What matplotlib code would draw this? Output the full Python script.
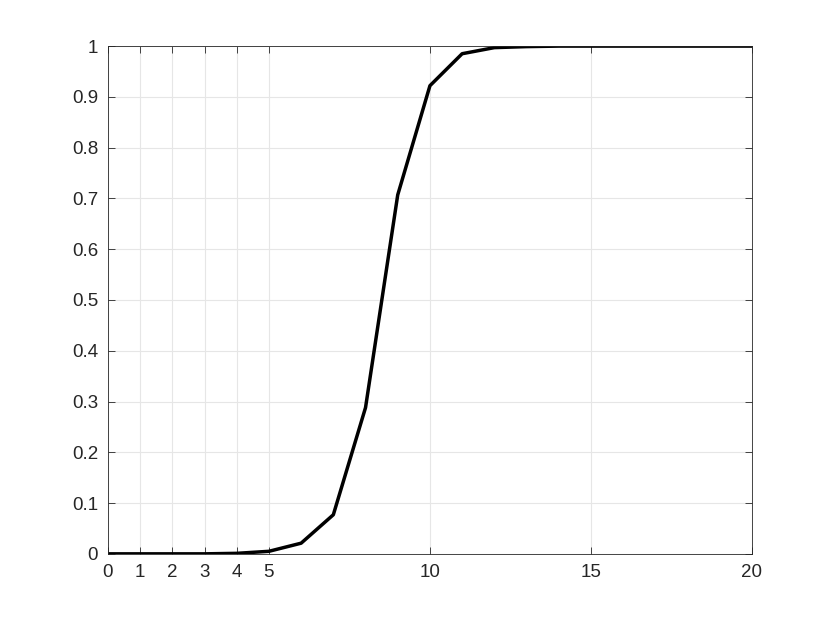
import numpy as np
import matplotlib.pyplot as plt

plt.rcParams['font.family'] = ['Liberation Sans', 'DejaVu Sans']

x_data = np.arange(0, 21, 1)
y_data = [0.0, 0.0, 0.0, 0.0, 0.001, 0.005, 0.021, 0.077, 0.288, 0.707, 0.922,
          0.985, 0.997, 0.999, 1.0, 1.0, 1.0, 1.0, 1.0, 1.0, 1.0]
x_ticks = [0, 1, 2, 3, 4, 5, 10, 15, 20]
y_ticks = np.round(np.arange(0, 1.01, 0.1), 1)
y_labels = ['0', '0.1', '0.2', '0.3', '0.4', '0.5', '0.6', '0.7', '0.8', '0.9', '1']

fig = plt.figure(figsize=(8.3, 6.23), dpi=100)
ax = fig.add_axes([0.13, 0.111, 0.776, 0.815])

ax.plot(x_data, y_data, '-', color='black', linewidth=2.5)

ax.set_xlim(0, 20)
ax.set_ylim(0, 1)
ax.set_xticks(x_ticks)
ax.set_xticklabels([str(t) for t in x_ticks])
ax.set_yticks(y_ticks)
ax.set_yticklabels(y_labels)
ax.grid(True, color='#e6e6e6', linewidth=0.8)
ax.set_axisbelow(True)
ax.tick_params(direction='in', top=True, right=True, labelsize=13.5,
               colors='#262626', length=5, width=0.6)
ax.tick_params(axis='y', pad=7)
ax.tick_params(axis='x', pad=7)
for s in ax.spines.values():
    s.set_color('#262626')
    s.set_linewidth(0.6)

plt.savefig('out.png', dpi=100)
